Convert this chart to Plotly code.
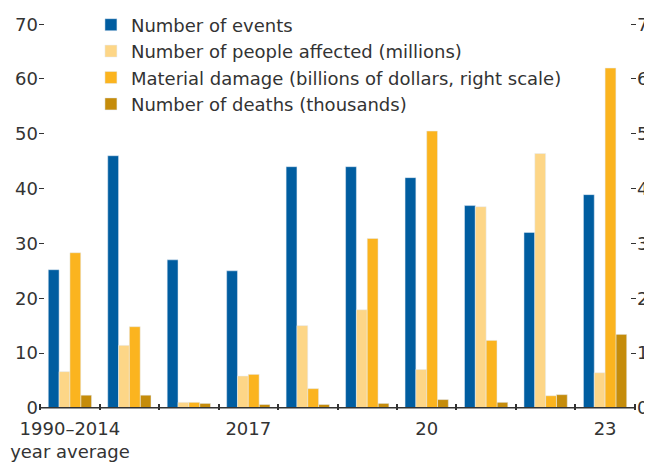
import plotly.graph_objects as go

years = ["1990–2014<br>year average", "2015", "2016", "2017", "2018", "2019", "2020", "2021", "2022", "2023"]
tick_labels = ["1990–2014<br>year average", "2017", "20", "23"]
tick_pos = [0, 3, 6, 9]

events = [25.2, 46.0, 27.0, 25.0, 44.0, 44.0, 42.0, 36.9, 32.0, 38.9]
people = [6.6, 11.4, 1.0, 5.8, 15.0, 17.9, 7.0, 36.7, 46.4, 6.4]
damage = [2.83, 1.48, 0.1, 0.61, 0.35, 3.09, 5.05, 1.23, 0.22, 6.2]
deaths = [2.3, 2.3, 0.8, 0.6, 0.6, 0.8, 1.5, 1.0, 2.4, 13.4]

x = list(range(len(years)))
w = 0.182
start = -2 * w

fig = go.Figure()
fig.add_trace(go.Bar(x=x, y=events, name="Number of events", marker_color="#005da0",
                     width=w, offset=start, yaxis="y"))
fig.add_trace(go.Bar(x=x, y=people, name="Number of people affected (millions)", marker_color="#fdd687",
                     width=w, offset=start + w, yaxis="y"))
fig.add_trace(go.Bar(x=x, y=damage, name="Material damage (billions of dollars, right scale)",
                     marker_color="#fbb41f", width=w, offset=start + 2 * w, yaxis="y2"))
fig.add_trace(go.Bar(x=x, y=deaths, name="Number of deaths (thousands)", marker_color="#c58c0b",
                     width=w, offset=start + 3 * w, yaxis="y"))

# invisible trace to carry the label axis
fig.add_trace(go.Scatter(x=x, y=[0] * len(x), xaxis="x2", mode="markers",
                         marker=dict(opacity=0), showlegend=False, hoverinfo="skip"))

# page body has an 8px margin, so the figure is sized 8px smaller
# ranges padded a little so plotly keeps the inside ticks at the ends
fig.update_layout(
    width=644, height=454,
    margin=dict(l=31, r=16, t=14, b=52, autoexpand=False),
    plot_bgcolor="white", paper_bgcolor="white",
    font=dict(family="DejaVu Sans, sans-serif", size=18, color="#333333"),
    barmode="overlay",
    xaxis=dict(
        range=[-0.52, 9.52], tickvals=[i - 0.5 for i in range(11)],
        ticktext=[""] * 11, ticks="inside", ticklen=6, tickwidth=1.5, tickcolor="#333333",
        showline=False, showgrid=False, zeroline=False,
    ),
    xaxis2=dict(
        overlaying="x", range=[-0.52, 9.52], tickvals=tick_pos, ticktext=tick_labels,
        ticks="", showgrid=False, zeroline=False, side="bottom", showline=False,
        ticklabelstandoff=6,
    ),
    yaxis=dict(
        range=[-0.4, 70.4], tickvals=[0, 10, 20, 30, 40, 50, 60, 70], ticks="inside",
        ticklen=5, tickcolor="#333333", showgrid=False, zeroline=False, showline=False,
    ),
    yaxis2=dict(
        range=[-0.04, 7.04], tickvals=[0, 1, 2, 3, 4, 5, 6, 7], overlaying="y", side="right",
        ticks="inside", ticklen=5, tickcolor="#333333", showgrid=False, zeroline=False,
        showline=False,
    ),
    legend=dict(
        x=0.087, y=1.04, xanchor="left", yanchor="top", font=dict(size=18),
        bgcolor="rgba(0,0,0,0)", tracegroupgap=0,
    ),
)

# baseline drawn between the outer group boundaries
fig.add_shape(type="line", xref="x", yref="y", x0=-0.5, x1=9.5, y0=0, y1=0,
              line=dict(color="#333333", width=1.5))

fig.write_html("out.html")
